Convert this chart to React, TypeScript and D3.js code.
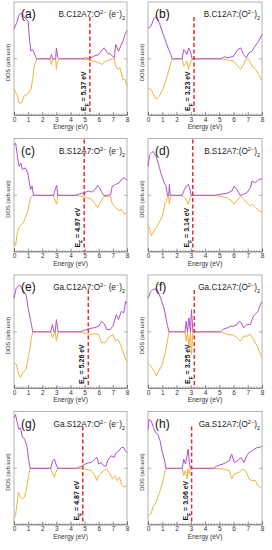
import React, { useEffect, useRef } from "react";
import * as d3 from "d3";

// energy (eV) / DOS (arb. units), up = purple, down = orange
const aUp = [[0,90],[0.2,110],[0.36,133],[0.5,138],[0.7,128],[1.0,113],[1.1,58],[1.2,23],[1.32,28],[1.6,0],[2.55,0],[2.65,13],[2.75,0],[2.95,0],[3.0,33],[3.1,5],[3.2,0],[4.7,0],[5.05,3],[5.3,0],[5.65,8],[6.0,13],[6.25,28],[6.4,33],[6.6,18],[6.85,13],[7.1,3],[7.2,43],[7.4,23],[7.55,38],[7.75,58],[7.85,73],[8,86]];
const aDn = [[0,-90],[0.24,-112],[0.36,-134],[0.55,-132],[0.72,-112],[0.96,-107],[1.2,-92],[1.32,-62],[1.44,-22],[1.6,0],[2.55,0],[2.65,-17],[2.75,0],[2.95,0],[3.0,-32],[3.05,-12],[3.2,0],[4.7,0],[5.05,-2],[5.65,-7],[6.0,-12],[6.25,-17],[6.5,-7],[6.85,-2],[7.1,0],[7.2,-22],[7.35,-32],[7.5,-27],[7.7,-62],[7.85,-62],[8,-84]];
const bUp = [[0,93],[0.2,98],[0.43,123],[0.6,128],[0.8,108],[1.04,78],[1.28,48],[1.45,28],[1.6,13],[1.7,0],[2.4,0],[2.5,28],[2.6,23],[2.73,13],[2.85,33],[2.97,23],[3.1,0],[5.1,0],[5.35,6],[5.6,3],[6.0,8],[6.3,28],[6.5,33],[6.7,13],[6.9,3],[7.07,18],[7.3,23],[7.5,38],[7.75,53],[8,73]];
const bDn = [[0,-90],[0.2,-92],[0.43,-112],[0.6,-122],[0.8,-112],[1.04,-92],[1.28,-62],[1.45,-37],[1.6,-12],[1.7,0],[2.4,0],[2.5,-22],[2.6,-17],[2.73,-7],[2.85,-32],[2.97,-12],[3.1,0],[5.1,0],[5.4,-2],[6.0,-7],[6.3,-22],[6.5,-32],[6.7,-17],[6.9,0],[7.07,-2],[7.3,-22],[7.55,-32],[7.75,-47],[8,-67]];
const cUp = [[0,153],[0.12,158],[0.24,118],[0.36,88],[0.48,98],[0.6,78],[0.8,83],[0.97,68],[1.09,38],[1.18,18],[1.28,28],[1.38,0],[2.8,0],[2.92,18],[3.02,30],[3.1,0],[4.3,0],[4.54,3],[4.78,6],[5.0,8],[5.26,13],[5.5,10],[5.75,18],[5.92,30],[6.06,23],[6.23,8],[6.35,0],[6.6,0],[6.84,3],[6.96,28],[7.2,33],[7.44,38],[7.6,48],[7.8,53],[8,46]];
const cDn = [[0,-142],[0.12,-152],[0.2,-122],[0.31,-102],[0.43,-92],[0.56,-87],[0.68,-82],[0.85,-62],[0.99,-47],[1.09,-22],[1.18,-7],[1.28,-2],[1.38,0],[2.8,0],[2.92,-17],[3.02,-27],[3.1,0],[4.3,0],[4.66,-2],[5.14,-7],[5.5,-12],[5.75,-27],[5.92,-37],[6.1,-22],[6.35,-4],[6.84,-2],[6.96,-27],[7.2,-37],[7.44,-47],[7.6,-42],[7.8,-57],[8,-52]];
const dUp = [[0,88],[0.12,123],[0.24,128],[0.36,133],[0.55,118],[0.71,98],[0.9,68],[1.14,38],[1.26,28],[1.37,0],[1.45,0],[1.5,33],[1.56,0],[2.4,0],[2.56,18],[2.68,28],[2.84,33],[2.96,13],[3.03,0],[4.7,0],[5.05,3],[5.52,6],[5.88,13],[6.04,28],[6.23,18],[6.47,0],[6.7,3],[6.94,8],[7.18,23],[7.3,43],[7.54,38],[7.77,48],[8,50]];
const dDn = [[0,-90],[0.12,-102],[0.24,-122],[0.43,-107],[0.6,-97],[0.78,-82],[1.02,-62],[1.2,-22],[1.3,-17],[1.37,0],[1.45,0],[1.5,-27],[1.56,0],[2.4,0],[2.56,-7],[2.68,-12],[2.84,-27],[2.96,-7],[3.03,0],[4.7,0],[5.52,-7],[5.88,-17],[6.04,-27],[6.23,-17],[6.47,-2],[6.7,-12],[6.94,-22],[7.18,-32],[7.3,-27],[7.54,-37],[7.77,-47],[8,-50]];
const eUp = [[0,102],[0.16,132],[0.39,142],[0.62,127],[0.85,112],[1.0,72],[1.14,42],[1.23,22],[1.33,0],[2.6,0],[2.72,22],[2.83,0],[2.92,0],[3.0,37],[3.13,0],[4.6,0],[4.96,4],[5.3,10],[5.65,12],[6.0,17],[6.2,32],[6.4,24],[6.56,7],[6.8,7],[7.0,17],[7.25,52],[7.4,37],[7.6,62],[7.77,57],[7.9,92],[8,87]];
const eDn = [[0,-93],[0.16,-98],[0.32,-128],[0.46,-138],[0.62,-123],[0.85,-113],[1.0,-78],[1.14,-48],[1.23,-18],[1.33,0],[2.6,0],[2.72,-18],[2.83,-8],[2.92,0],[3.0,-28],[3.13,0],[4.6,0],[5.3,-8],[5.76,-6],[6.0,-8],[6.2,-33],[6.45,-33],[6.67,-18],[7.0,-8],[7.18,-28],[7.36,-23],[7.54,-38],[7.7,-58],[7.86,-78],[8,-93]];
const fUp = [[0,102],[0.19,122],[0.42,130],[0.65,127],[0.89,102],[1.12,72],[1.35,22],[1.47,0],[2.6,0],[2.68,32],[2.77,0],[2.87,42],[2.98,0],[3.05,67],[3.15,0],[5.1,0],[5.24,7],[5.55,12],[5.78,17],[6.0,17],[6.25,22],[6.41,32],[6.55,27],[6.71,12],[6.95,22],[7.18,22],[7.34,42],[7.48,52],[7.72,62],[7.88,82],[8,92]];
const fDn = [[0,-96],[0.19,-103],[0.42,-118],[0.58,-133],[0.77,-118],[1.0,-98],[1.24,-58],[1.4,-18],[1.47,0],[2.6,0],[2.68,-28],[2.77,0],[2.87,-43],[2.98,0],[3.05,-68],[3.15,0],[5.1,0],[5.55,-8],[6.0,-10],[6.25,-18],[6.48,-28],[6.71,-13],[6.95,-13],[7.18,-8],[7.41,-23],[7.65,-43],[7.81,-58],[8,-78]];
const gUp = [[0,153],[0.11,163],[0.23,138],[0.34,118],[0.46,123],[0.57,98],[0.75,88],[0.91,68],[1.03,28],[1.14,0],[2.6,0],[2.74,23],[2.86,28],[2.97,13],[3.09,0],[4.4,0],[4.57,3],[4.8,6],[5.03,13],[5.26,16],[5.49,18],[5.71,28],[5.87,33],[6.0,13],[6.17,18],[6.33,8],[6.51,6],[6.63,23],[6.86,38],[7.09,33],[7.25,48],[7.43,53],[7.61,63],[7.77,63],[7.89,53],[8,48]];
const gDn = [[0,-152],[0.11,-142],[0.23,-102],[0.3,-72],[0.46,-87],[0.62,-92],[0.75,-87],[0.91,-57],[1.03,-22],[1.14,0],[2.6,0],[2.74,-17],[2.86,-27],[2.97,-12],[3.09,0],[4.4,0],[5.03,-2],[5.49,-7],[5.71,-22],[5.87,-37],[6.0,-22],[6.33,-7],[6.56,-2],[6.74,-12],[6.97,-32],[7.15,-22],[7.31,-37],[7.47,-27],[7.61,-47],[7.77,-57],[8,-52]];
const hUp = [[0,118],[0.07,148],[0.23,143],[0.39,123],[0.53,108],[0.69,103],[0.85,83],[0.98,53],[1.14,28],[1.26,0],[2.4,0],[2.51,28],[2.63,13],[2.74,38],[2.81,58],[2.9,18],[2.97,0],[4.6,0],[4.8,6],[5.03,10],[5.26,13],[5.49,18],[5.71,23],[5.87,43],[6.06,18],[6.29,23],[6.51,33],[6.74,18],[6.93,38],[7.09,48],[7.31,53],[7.47,58],[7.66,63],[7.84,63],[8,68]];
const hDn = [[0,-142],[0.11,-140],[0.23,-137],[0.34,-117],[0.53,-107],[0.69,-87],[0.85,-67],[1.03,-42],[1.14,-17],[1.26,0],[2.4,0],[2.51,-22],[2.63,-7],[2.74,-32],[2.81,-2],[2.9,-17],[2.97,0],[4.6,0],[5.26,-2],[5.71,-7],[5.87,-32],[6.06,-17],[6.4,-12],[6.63,-2],[6.86,-7],[7.09,-32],[7.31,-37],[7.54,-37],[7.7,-52],[7.89,-57],[8,-62]];

const upSeries = [aUp, bUp, cUp, dUp, eUp, fUp, gUp, hUp];
const downSeries = [aDn, bDn, cDn, dDn, eDn, fDn, gDn, hDn];
const fermiLevels = [5.37, 3.23, 4.97, 3.14, 5.26, 3.25, 4.87, 3.06];
const panelLabels = ["(a)", "(b)", "(c)", "(d)", "(e)", "(f)", "(g)", "(h)"];
// ^{..} superscript, _{..} subscript
const titles = [
  "B.C12A7:O^{2−} (e^{−})_{2}",
  "B.C12A7:(O^{2−})_{2}",
  "B.S12A7:O^{2−} (e^{−})_{2}",
  "B.S12A7:(O^{2−})_{2}",
  "Ga.C12A7:O^{2−} (e^{−})_{2}",
  "Ga.C12A7:(O^{2−})_{2}",
  "Ga.S12A7:O^{2−} (e^{−})_{2}",
  "Ga.S12A7:(O^{2−})_{2}",
];
const energyTicks = [0, 1, 2, 3, 4, 5, 6, 7, 8];

const FONT = "'Liberation Sans', Arial, sans-serif";

const addRich = (text, str) => {
  const re = /([\^_])\{([^}]*)\}|([^\^_]+)/g;
  let m;
  while ((m = re.exec(str))) {
    if (m[3]) text.append("tspan").text(m[3]);
    else {
      const sup = m[1] === "^";
      text.append("tspan")
        .attr("font-size", "0.68em")
        .attr("baseline-shift", sup ? "super" : "sub")
        .text(m[2]);
    }
  }
};

const App = () => {
  const ref = useRef(null);

  useEffect(() => {
    const svg = d3.select(ref.current);
    svg.selectAll("*").remove();

    panelLabels.forEach((lab, i) => {
      const col = i % 2;
      const row = Math.floor(i / 2);
      const x0 = col ? 148 : 14;
      const x1 = col ? 262 : 127;
      const top = 2 + row * 136.5;
      const bottom = top + 113;

      const x = d3.scaleLinear().domain([0, 8]).range([x0, x1]);
      const y = d3.scaleLinear().domain([-170, 172]).range([bottom, top]);
      const g = svg.append("g").attr("font-family", FONT);

      g.append("rect")
        .attr("x", x0).attr("y", top)
        .attr("width", x1 - x0).attr("height", bottom - top)
        .attr("fill", "none").attr("stroke", "#a0a0a0").attr("stroke-width", 0.8);

      // minor ticks
      const minor = g.append("g")
        .attr("transform", `translate(0,${bottom})`)
        .call(d3.axisBottom(x).tickValues(d3.range(0, 8.001, 0.2)).tickSize(-1.5).tickFormat(() => ""));
      minor.select(".domain").remove();
      minor.selectAll("line").attr("stroke", "#666").attr("stroke-width", 0.5);

      const ax = g.append("g")
        .attr("transform", `translate(0,${bottom})`)
        .call(d3.axisBottom(x).tickValues(energyTicks).tickSize(-3).tickPadding(2).tickFormat(d3.format("d")));
      ax.select(".domain").attr("stroke", "#777").attr("stroke-width", 0.8);
      ax.selectAll("line").attr("stroke", "#555").attr("stroke-width", 0.6);
      ax.selectAll("text").attr("font-size", 6.5).attr("font-family", FONT).attr("fill", "#333");

      // zero ticks on both sides
      g.append("line").attr("x1", x0).attr("x2", x0 + 3).attr("y1", y(0)).attr("y2", y(0)).attr("stroke", "#777").attr("stroke-width", 0.6);
      g.append("line").attr("x1", x1 - 3).attr("x2", x1).attr("y1", y(0)).attr("y2", y(0)).attr("stroke", "#777").attr("stroke-width", 0.6);

      g.append("text")
        .attr("x", (x0 + x1) / 2).attr("y", bottom + 14)
        .attr("text-anchor", "middle").attr("font-size", 6.5).attr("fill", "#333")
        .text("Energy (eV)");

      g.append("text")
        .attr("transform", `translate(${x0 - 4},${(top + bottom) / 2 + 4}) rotate(-90)`)
        .attr("text-anchor", "middle").attr("font-size", 5.8).attr("fill", "#333")
        .text("DOS (arb.unit)");

      const line = d3.line().x((d) => x(d[0])).y((d) => y(d[1]));
      g.append("path").datum(downSeries[i]).attr("d", line)
        .attr("fill", "none").attr("stroke", "#f2b43c").attr("stroke-width", 1);
      g.append("path").datum(upSeries[i]).attr("d", line)
        .attr("fill", "none").attr("stroke", "#b24fd0").attr("stroke-width", 1);

      const ef = fermiLevels[i];
      const fromTop = row === 1;
      g.append("line")
        .attr("x1", x(ef)).attr("x2", x(ef))
        .attr("y1", fromTop ? top + 1 : top + 15).attr("y2", bottom)
        .attr("stroke", "#e3302b").attr("stroke-width", 1.5)
        .attr("stroke-dasharray", "4,2.5");

      const efText = g.append("text")
        .attr("transform", `translate(${x(ef) - 4},${bottom - 4}) rotate(-90)`)
        .attr("font-size", 7).attr("font-weight", "bold").attr("fill", "#111");
      efText.append("tspan").text("E");
      efText.append("tspan").attr("font-size", "0.7em").attr("baseline-shift", "sub").text("F");
      efText.append("tspan").text(` = ${ef.toFixed(2)} eV`);

      g.append("text")
        .attr("x", x0 + 7).attr("y", top + 16)
        .attr("font-size", 12).attr("fill", "#111")
        .text(lab);

      const t = g.append("text")
        .attr("x", x1 - 2).attr("y", top + 15)
        .attr("text-anchor", "end").attr("font-size", 8.2).attr("fill", "#222");
      addRich(t, titles[i]);
    });
  }, []);

  return (
    <svg
      ref={ref}
      width={272}
      height={550}
      style={{ position: "absolute", left: 0, top: 0, background: "#fff" }}
    />
  );
};

export default App;
